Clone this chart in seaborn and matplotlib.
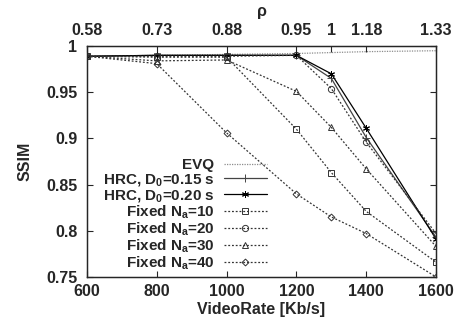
import numpy as np
import pandas as pd
import matplotlib
matplotlib.use("Agg")
import matplotlib.pyplot as plt
import seaborn as sns

# ---------- data ----------
rates = [600, 800, 1000, 1200, 1300, 1400, 1600]
rho_labels = ["0.58", "0.73", "0.88", "0.95", "1", "1.18", "1.33"]

evq = [0.989, 0.990, 0.991, 0.992, 0.993, 0.994, 0.995]
hrc_015 = [0.989, 0.990, 0.990, 0.990, 0.965, 0.901, 0.793]
hrc_020 = [0.989, 0.990, 0.990, 0.990, 0.970, 0.911, 0.791]
fixed_10 = [0.989, 0.988, 0.988, 0.910, 0.863, 0.821, 0.766]
fixed_20 = [0.989, 0.989, 0.989, 0.990, 0.954, 0.896, 0.797]
fixed_30 = [0.989, 0.984, 0.985, 0.951, 0.912, 0.867, 0.783]
fixed_40 = [0.989, 0.981, 0.906, 0.840, 0.815, 0.797, 0.750]

dash = (0, (1.5, 1.5))
series = [
    ("EVQ", evq, dict(color="#8c8c8c", linestyle=(0, (1, 1)), marker=None)),
    ("HRC, D$_0$=0.15 s", hrc_015, dict(color="#444444", linestyle="-", marker="+", markersize=6)),
    ("HRC, D$_0$=0.20 s", hrc_020, dict(color="black", linestyle="-", marker=(6, 2, 0), markersize=5)),
    ("Fixed N$_a$=10", fixed_10, dict(color="#333333", linestyle=dash, marker="s", markersize=4.5, markerfacecolor="none")),
    ("Fixed N$_a$=20", fixed_20, dict(color="#333333", linestyle=dash, marker="o", markersize=4.5, markerfacecolor="none")),
    ("Fixed N$_a$=30", fixed_30, dict(color="#333333", linestyle=dash, marker="^", markersize=4.5, markerfacecolor="none")),
    ("Fixed N$_a$=40", fixed_40, dict(color="#333333", linestyle=dash, marker="D", markersize=3.5, markerfacecolor="none")),
]

# ---------- style ----------
sns.set_style("ticks")
plt.rcParams["font.family"] = ["Liberation Sans", "DejaVu Sans"]
plt.rcParams["font.weight"] = "bold"
plt.rcParams["mathtext.fontset"] = "custom"
plt.rcParams["mathtext.rm"] = "Liberation Sans:bold"
plt.rcParams["mathtext.it"] = "Liberation Sans:bold"
plt.rcParams["mathtext.bf"] = "Liberation Sans:bold"
plt.rcParams["mathtext.default"] = "rm"

fs = 11.5
fig = plt.figure(figsize=(4.6, 3.27), dpi=100)
ax = fig.add_axes([0.189, 0.153, 0.759, 0.706])

for name, vals, kw in series:
    sns.lineplot(x=rates, y=vals, ax=ax, label=name, linewidth=0.9,
                 markeredgewidth=0.7, markeredgecolor=kw["color"], **kw)

ax.set_xlim(600, 1600)
ax.set_ylim(0.75, 1.0)
ax.set_xticks([600, 800, 1000, 1200, 1400, 1600])
ax.set_yticks([0.75, 0.8, 0.85, 0.9, 0.95, 1.0])
ax.set_yticklabels(["0.75", "0.8", "0.85", "0.9", "0.95", "1"])
ax.tick_params(axis="x", direction="in", length=4, width=0.8, labelsize=fs, pad=5)
ax.tick_params(axis="y", direction="in", length=4, width=0.8, labelsize=fs, right=True, pad=7)
ax.set_xlabel("VideoRate [Kb/s]", fontsize=fs, fontweight="bold", labelpad=2)
ax.set_ylabel("SSIM", fontsize=fs, fontweight="bold", labelpad=10)
for s in ax.spines.values():
    s.set_linewidth(1.0)

top = ax.twiny()
top.set_xlim(ax.get_xlim())
top.set_xticks(rates)
top.set_xticklabels(rho_labels)
top.tick_params(direction="in", length=4, width=0.8, labelsize=fs, pad=6)
top.set_xlabel("ρ", fontsize=fs, fontweight="bold", labelpad=5)

leg = ax.legend(loc="lower right", bbox_to_anchor=(0.545, -0.025), frameon=False,
                markerfirst=False, prop={"size": 11, "weight": "bold"},
                handlelength=2.8, handletextpad=0.6,
                labelspacing=-0.02, borderpad=0.2, numpoints=1)

fig.savefig("out.png", dpi=100)
